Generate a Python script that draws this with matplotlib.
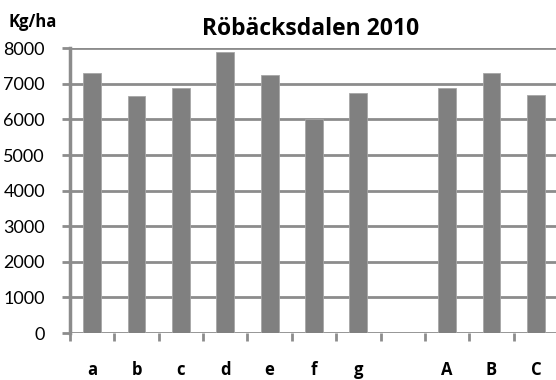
import matplotlib
matplotlib.use('Agg')
import matplotlib.pyplot as plt
import numpy as np

# skörd per led, Röbäcksdalen 2010
categories = ['a', 'b', 'c', 'd', 'e', 'f', 'g', '', 'A', 'B', 'C']
yields = [7300, 6660, 6890, 7890, 7250, 6010, 6750, np.nan, 6890, 7300, 6700]
yticks = [0, 1000, 2000, 3000, 4000, 5000, 6000, 7000, 8000]

plt.rcParams['font.family'] = ['Lato', 'DejaVu Sans']
bold_font = ['Open Sans', 'DejaVu Sans']
grey = '#8c8c8c'

fig = plt.figure(figsize=(5.56, 3.80), dpi=100)
ax = fig.add_axes([70/556, 1-333/380, 488/556, (333-48.3)/380])

x = np.arange(len(categories))
ax.bar(x, yields, width=0.4, color='#808080', edgecolor='#a6a6a6', linewidth=0.6, zorder=3)

ax.set_xlim(-0.5, len(categories) - 0.5)
ax.set_ylim(0, 8000)
ax.set_yticks(yticks)
ax.set_yticklabels([str(v) for v in yticks], fontsize=13)
ax.yaxis.grid(True, color=grey, linewidth=2, zorder=0)
ax.set_axisbelow(True)

# kategorietiketter under, tickmarkeringar mellan staplarna
ax.set_xticks(x)
ax.set_xticklabels(categories, fontsize=12, fontweight='bold', family=bold_font)
ax.set_xticks(np.arange(-0.5, len(categories)), minor=True)
ax.tick_params(axis='x', which='major', length=0, pad=20)
ax.tick_params(axis='x', which='minor', length=6, width=2, color=grey, direction='out')
ax.tick_params(axis='y', length=6, width=2, color=grey, pad=12)

for s in ['top', 'right', 'bottom']:
    ax.spines[s].set_visible(False)
ax.spines['left'].set_color(grey)
ax.spines['left'].set_linewidth(2.5)

fig.text(8/556, 1-22/380, 'Kg/ha', fontsize=12, fontweight='bold', va='center', family=bold_font)
fig.text(311/556, 1-29/380, 'Röbäcksdalen 2010', fontsize=16.5, fontweight='bold',
         ha='center', va='center', family=bold_font)

fig.savefig('out.png', dpi=100)
